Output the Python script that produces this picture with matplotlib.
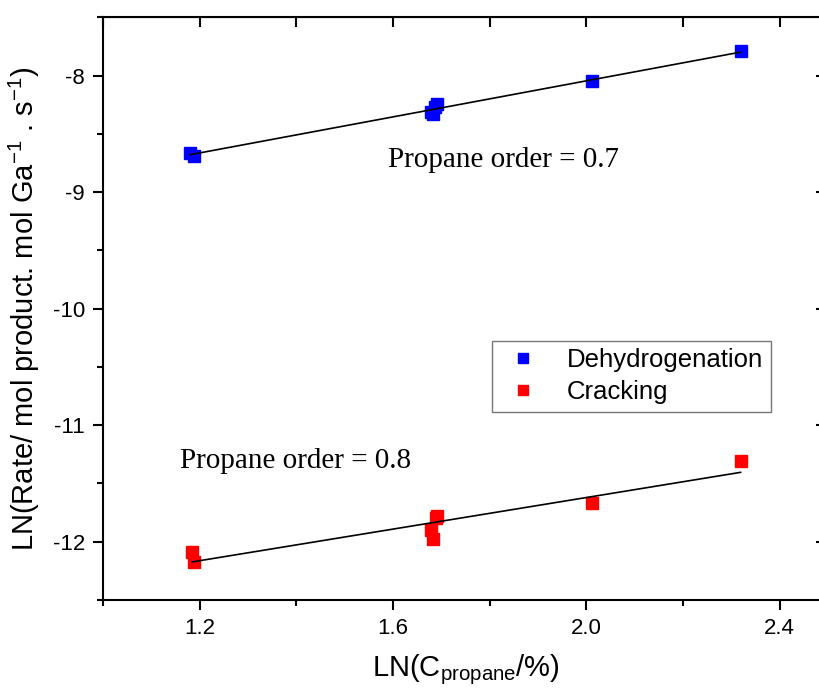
import numpy as np
import matplotlib.pyplot as plt

sans = "Liberation Sans"
serif = "Liberation Serif"
plt.rcParams["mathtext.fontset"] = "custom"
plt.rcParams["mathtext.rm"] = sans
plt.rcParams["mathtext.it"] = sans + ":italic"

# ln(propane %) and ln(rate) for both reactions
x_dehyd = [1.180, 1.188, 1.690, 1.678, 1.682, 1.686, 2.012, 2.319]
y_dehyd = [-8.66, -8.69, -8.24, -8.31, -8.33, -8.27, -8.05, -7.79]

x_crack = [1.184, 1.188, 1.691, 1.688, 1.678, 1.683, 2.012, 2.319]
y_crack = [-12.09, -12.17, -11.78, -11.80, -11.90, -11.98, -11.67, -11.31]

xticks = [1.2, 1.6, 2.0, 2.4]
yticks = [-8, -9, -10, -11, -12]

fig = plt.figure(figsize=(8.2, 6.96), dpi=100)
ax = fig.add_axes([0.1256, 0.138, 0.8842, 0.837])

ax.plot(x_dehyd, y_dehyd, "s", color="#0000ff", ms=8.5, mec="#0000ff", label="Dehydrogenation", zorder=3)
ax.plot(x_crack, y_crack, "s", color="#ff0000", ms=8.5, mec="#ff0000", label="Cracking", zorder=3)

# linear fits through each set
for xs, ys in [(x_dehyd, y_dehyd), (x_crack, y_crack)]:
    xs = np.array(xs)
    k, b = np.polyfit(xs, ys, 1)
    xf = np.array([xs.min(), xs.max()])
    ax.plot(xf, k*xf + b, "-", color="black", lw=1.2, zorder=4)

ax.set_xlim(1.0, 2.5)
ax.set_ylim(-12.5, -7.5)
ax.set_xticks(xticks)
ax.set_xticks([1.0, 1.4, 1.8, 2.2], minor=True)
ax.set_yticks(yticks)
ax.set_yticks(np.arange(-12.5, -7.4, 0.5), minor=True)
ax.set_xticklabels(["%.1f" % t for t in xticks])
ax.set_yticklabels(["%d" % t for t in yticks])

for s in ax.spines.values():
    s.set_linewidth(1.5)
ax.tick_params(which="both", direction="out", width=1.5, labelsize=16)
ax.tick_params(which="major", length=7, pad=6)
ax.tick_params(which="minor", length=4)
for lab in ax.get_xticklabels() + ax.get_yticklabels():
    lab.set_family(sans)

top = ax.secondary_xaxis("top")
top.set_xticks(xticks + [1.0, 1.4, 1.8, 2.2])
top.tick_params(direction="in", length=7, width=1.5, labeltop=False)
right = ax.secondary_yaxis("right")
right.set_yticks(yticks)
right.tick_params(direction="in", length=9, width=1.5, labelright=False)

ax.set_xlabel("LN(C$_{\\mathrm{propane}}$/%)", fontsize=21, family=sans, labelpad=10)
ax.set_ylabel("LN(Rate/ mol product. mol Ga$^{\\mathrm{-1}}$ . s$^{\\mathrm{-1}}$)", fontsize=21,
              family=sans, labelpad=8)

ax.text(1.59, -8.72, "Propane order = 0.7", family=serif, fontsize=21, va="center")
ax.text(1.16, -11.31, "Propane order = 0.8", family=serif, fontsize=21, va="center")

leg = ax.legend(loc="upper left", bbox_to_anchor=(0.537, 0.445), fancybox=False,
                prop={"family": sans, "size": 18.5}, markerscale=0.85, handletextpad=0.8,
                borderpad=0.3, labelspacing=0.3, handlelength=1.8, borderaxespad=0)
leg.get_frame().set_edgecolor("#555555")
leg.get_frame().set_linewidth(1.0)

fig.savefig("out.png", dpi=100)
